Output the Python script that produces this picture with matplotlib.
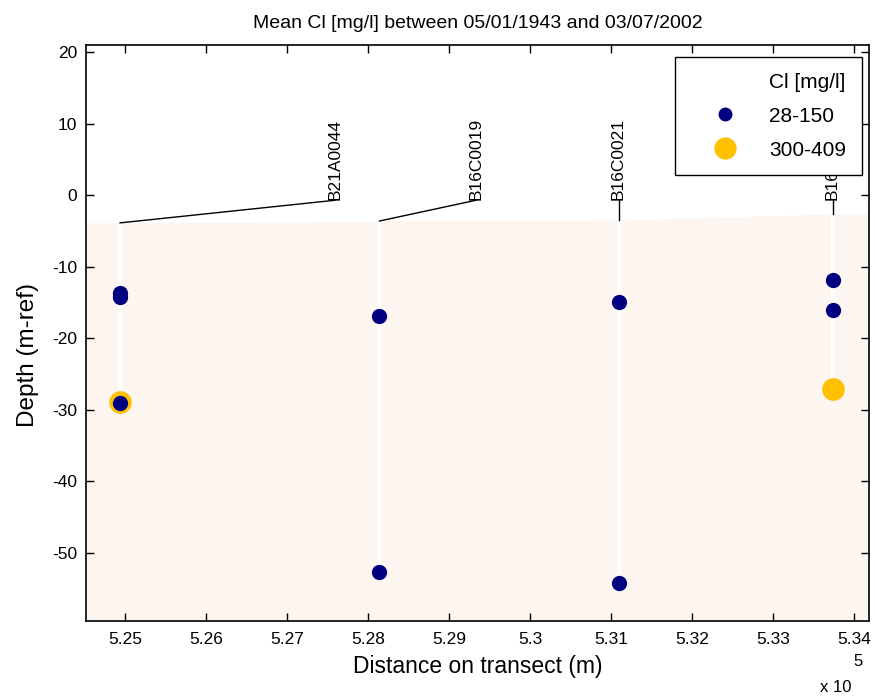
import matplotlib
matplotlib.use("Agg")
import matplotlib.pyplot as plt
from matplotlib.lines import Line2D
from matplotlib.ticker import FuncFormatter, MultipleLocator

plt.rcParams['font.family'] = ['Liberation Sans', 'DejaVu Sans']
plt.rcParams['axes.unicode_minus'] = False

# ---- data ----
title = "Mean Cl [mg/l] between 05/01/1943 and 03/07/2002"
well_names = ["B21A0044", "B16C0019", "B16C0021", "B16C0022"]
well_x_m = [524940, 528140, 531090, 533730]          # distance on transect (m)
well_surface = [-3.86, -3.6, -3.5, -2.6]              # top of well (m-ref)
well_bottom = [-29.1, -52.7, -54.2, -27.1]            # deepest sample (m-ref)
label_x_m = [527590, 529330, 531090, 533730]          # label anchor positions
label_y = -0.7

low_x_m = [524940, 524940, 524940, 528140, 528140, 531090, 531090, 533730, 533730]
low_depth = [-13.7, -14.2, -29.1, -16.9, -52.7, -14.9, -54.2, -11.9, -16.1]
high_x_m = [524940, 533730]
high_depth = [-28.9, -27.1]

class_title = "Cl [mg/l]"
class_labels = ["28-150", "300-409"]
class_colors = ["#000080", "#FFC000"]

xlim_m = (524520, 534180)
ylim = (-59.5, 21.0)
scale = 1e5

# ---- figure ----
W, H = 875, 696
fig = plt.figure(figsize=(W / 100, H / 100), dpi=100)
fig.patch.set_facecolor("white")
ax_l, ax_r, ax_t, ax_b = 86, 869, 45, 621
ax = fig.add_axes([ax_l / W, 1 - ax_b / H, (ax_r - ax_l) / W, (ax_b - ax_t) / H])

xs = lambda v: [x / scale for x in v]

# ground fill
fill_x = [xlim_m[0]] + well_x_m + [xlim_m[1]]
fill_top = [well_surface[0]] + well_surface + [well_surface[-1]]
ax.fill_between(xs(fill_x), fill_top, ylim[0], color="#FDF5EF", lw=0, zorder=1)

# well casings (white) and label leaders (black)
for wx, s, b, lx, name in zip(well_x_m, well_surface, well_bottom, label_x_m, well_names):
    ax.plot([wx / scale, wx / scale], [s, b], color="white", lw=3.0, zorder=2, solid_capstyle="butt")
    ax.plot([wx / scale, lx / scale], [s, label_y], color="black", lw=1.0, zorder=3)
    ax.text(lx / scale, label_y, name, rotation=90, ha="center", va="bottom",
            fontsize=12.5, zorder=3)

ax.plot(xs(high_x_m), high_depth, "o", color=class_colors[1], ms=16.3, mew=0, zorder=4)
ax.plot(xs(low_x_m), low_depth, "o", color=class_colors[0], ms=11, mew=0, zorder=5)

ax.set_xlim(xlim_m[0] / scale, xlim_m[1] / scale)
ax.set_ylim(*ylim)
ax.xaxis.set_major_locator(MultipleLocator(0.01))
ax.yaxis.set_major_locator(MultipleLocator(10))
ax.xaxis.set_major_formatter(FuncFormatter(lambda v, p: "%g" % round(v, 4)))
ax.yaxis.set_major_formatter(FuncFormatter(lambda v, p: "%g" % v))
ax.tick_params(direction="in", length=5.5, width=1.0, top=True, right=True,
               labelsize=12.5)
ax.tick_params(axis="y", pad=6.5)
ax.tick_params(axis="x", pad=8)
for sp in ax.spines.values():
    sp.set_linewidth(1.2)
    sp.set_zorder(10)

ax.set_title(title, fontsize=14, pad=12)
ax.set_xlabel("Distance on transect (m)", fontsize=16.5, labelpad=6)
fig.text(28 / W, 1 - 355 / H, "Depth (m-ref)", fontsize=17.5, rotation=90,
         ha="center", va="center")

fig.text(852 / W, 1 - 688 / H, "x 10", fontsize=12, ha="right", va="center")
fig.text(858 / W, 1 - 662 / H, "5", fontsize=12, ha="center", va="center")

handles = [Line2D([], [], ls="none", marker=None),
           Line2D([], [], ls="none", marker="o", color=class_colors[0], ms=10, mew=0),
           Line2D([], [], ls="none", marker="o", color=class_colors[1], ms=16, mew=0)]
labels = [class_title] + class_labels
leg = ax.legend(handles, labels, loc="upper right",
                bbox_to_anchor=((862 - ax_l) / (ax_r - ax_l), (ax_b - 57) / (ax_b - ax_t)),
                borderaxespad=0, fontsize=15, fancybox=False, framealpha=1,
                edgecolor="black", handlelength=3.3, handletextpad=0.5,
                borderpad=0.75, labelspacing=0.72)
leg.get_frame().set_linewidth(1.0)
leg.set_zorder(20)

fig.savefig("out.png", dpi=100)
